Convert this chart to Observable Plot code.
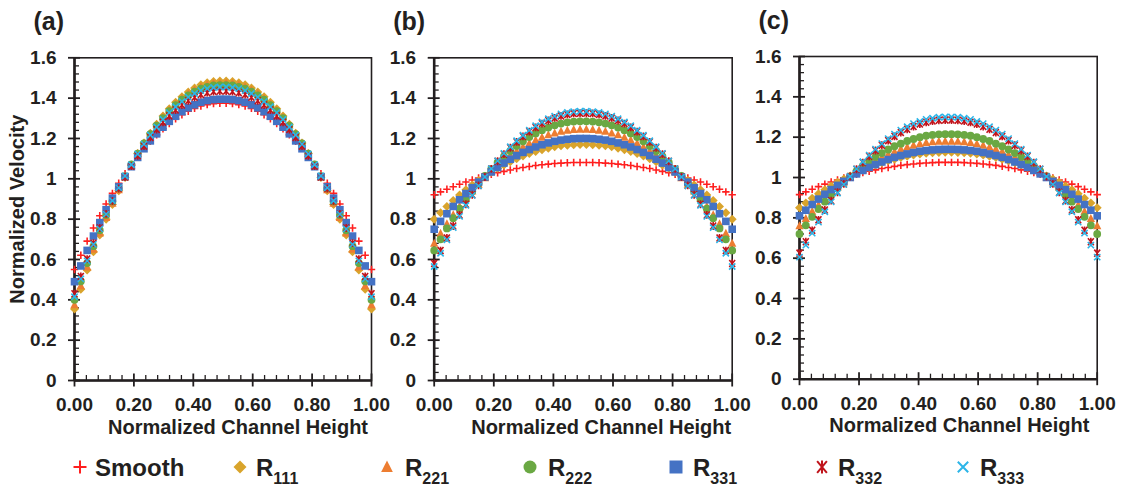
<!DOCTYPE html>
<html><head><meta charset="utf-8">
<script src="https://cdn.jsdelivr.net/npm/d3@7"></script>
<script src="https://cdn.jsdelivr.net/npm/@observablehq/plot@0.6"></script>
<style>
body{margin:0;background:#fff;}
#root{position:relative;width:1129px;height:493px;overflow:hidden;background:#fff;font-family:"Liberation Sans",Arial,sans-serif;color:#231f20;}
.panel{position:absolute;top:0;height:440px;}
.leg{position:absolute;top:456px;font-weight:bold;font-size:24px;line-height:24px;white-space:nowrap;}
.leg sub{font-size:16px;vertical-align:baseline;position:relative;top:8px;}
.legsym{position:absolute;top:455px;}
</style></head><body><div id="root"></div><script>
// ---- data ----
const xs = [0,0.0213,0.0426,0.0638,0.0851,0.1064,0.1277,0.1489,0.1702,0.1915,0.2128,0.2340,0.2553,0.2766,0.2979,0.3191,0.3404,0.3617,0.3830,0.4043,0.4255,0.4468,0.4681,0.4894,0.5106,0.5319,0.5532,0.5745,0.5957,0.6170,0.6383,0.6596,0.6809,0.7021,0.7234,0.7447,0.7660,0.7872,0.8085,0.8298,0.8511,0.8723,0.8936,0.9149,0.9362,0.9574,0.9787,1];
const seriesNames = ["Smooth","R111","R221","R222","R331","R332","R333"];
const xTicks = [0,0.2,0.4,0.6,0.8,1];
const yTicks = [0,0.2,0.4,0.6,0.8,1,1.2,1.4,1.6];

// panel (a)
const smoothA = [0.550,0.621,0.691,0.756,0.817,0.875,0.928,0.978,1.025,1.070,1.112,1.151,1.186,1.218,1.248,1.274,1.297,1.318,1.335,1.349,1.361,1.368,1.373,1.375,1.375,1.373,1.368,1.361,1.349,1.335,1.318,1.297,1.274,1.248,1.218,1.186,1.151,1.112,1.070,1.025,0.978,0.928,0.875,0.817,0.756,0.691,0.621,0.550];
const r111A = [0.355,0.452,0.548,0.638,0.721,0.800,0.873,0.941,1.006,1.067,1.125,1.178,1.226,1.270,1.311,1.347,1.379,1.407,1.431,1.450,1.466,1.476,1.483,1.485,1.485,1.483,1.476,1.466,1.450,1.431,1.407,1.379,1.347,1.311,1.270,1.226,1.178,1.125,1.067,1.006,0.941,0.873,0.800,0.721,0.638,0.548,0.452,0.355];
const r221A = [0.375,0.470,0.563,0.650,0.731,0.808,0.879,0.946,1.009,1.068,1.124,1.176,1.223,1.266,1.306,1.341,1.372,1.399,1.422,1.441,1.456,1.466,1.473,1.475,1.475,1.473,1.466,1.456,1.441,1.422,1.399,1.372,1.341,1.306,1.266,1.223,1.176,1.124,1.068,1.009,0.946,0.879,0.808,0.731,0.650,0.563,0.470,0.375];
const r222A = [0.400,0.492,0.582,0.666,0.745,0.820,0.888,0.953,1.013,1.071,1.125,1.175,1.221,1.263,1.301,1.335,1.365,1.392,1.414,1.432,1.447,1.456,1.463,1.465,1.465,1.463,1.456,1.447,1.432,1.414,1.392,1.365,1.335,1.301,1.263,1.221,1.175,1.125,1.071,1.013,0.953,0.888,0.820,0.745,0.666,0.582,0.492,0.400];
const r331A = [0.490,0.568,0.645,0.716,0.783,0.847,0.904,0.960,1.011,1.060,1.106,1.149,1.188,1.223,1.256,1.285,1.310,1.333,1.352,1.367,1.380,1.388,1.393,1.395,1.395,1.393,1.388,1.380,1.367,1.352,1.333,1.310,1.285,1.256,1.223,1.188,1.149,1.106,1.060,1.011,0.960,0.904,0.847,0.783,0.716,0.645,0.568,0.490];
const r332A = [0.430,0.516,0.602,0.681,0.756,0.826,0.890,0.952,1.009,1.063,1.114,1.162,1.205,1.244,1.280,1.312,1.341,1.366,1.387,1.404,1.418,1.427,1.433,1.435,1.435,1.433,1.427,1.418,1.404,1.387,1.366,1.341,1.312,1.280,1.244,1.205,1.162,1.114,1.063,1.009,0.952,0.890,0.826,0.756,0.681,0.602,0.516,0.430];
const r333A = [0.415,0.504,0.593,0.675,0.752,0.825,0.891,0.955,1.014,1.070,1.123,1.172,1.217,1.257,1.295,1.328,1.357,1.383,1.405,1.423,1.437,1.447,1.453,1.455,1.455,1.453,1.447,1.437,1.423,1.405,1.383,1.357,1.328,1.295,1.257,1.217,1.172,1.123,1.070,1.014,0.955,0.891,0.825,0.752,0.675,0.593,0.504,0.415];

// panel (b)
const smoothB = [0.921,0.935,0.948,0.961,0.973,0.984,0.994,1.004,1.013,1.022,1.030,1.037,1.044,1.051,1.056,1.061,1.066,1.070,1.073,1.076,1.078,1.080,1.081,1.081,1.081,1.081,1.080,1.078,1.076,1.073,1.070,1.066,1.061,1.056,1.051,1.044,1.037,1.030,1.022,1.013,1.004,0.994,0.984,0.973,0.961,0.948,0.935,0.921];
const r111B = [0.800,0.832,0.863,0.893,0.920,0.946,0.969,0.992,1.013,1.033,1.052,1.069,1.085,1.100,1.113,1.125,1.135,1.144,1.152,1.159,1.164,1.167,1.169,1.170,1.170,1.169,1.167,1.164,1.159,1.152,1.144,1.135,1.125,1.113,1.100,1.085,1.069,1.052,1.033,1.013,0.992,0.969,0.946,0.920,0.893,0.863,0.832,0.800];
const r221B = [0.680,0.729,0.777,0.821,0.863,0.903,0.939,0.973,1.005,1.036,1.065,1.091,1.116,1.138,1.158,1.176,1.192,1.206,1.218,1.227,1.235,1.240,1.244,1.245,1.245,1.244,1.240,1.235,1.227,1.218,1.206,1.192,1.176,1.158,1.138,1.116,1.091,1.065,1.036,1.005,0.973,0.939,0.903,0.863,0.821,0.777,0.729,0.680];
const r222B = [0.645,0.700,0.754,0.805,0.852,0.897,0.938,0.977,1.014,1.048,1.081,1.111,1.138,1.163,1.186,1.207,1.225,1.241,1.254,1.265,1.274,1.280,1.284,1.285,1.285,1.284,1.280,1.274,1.265,1.254,1.241,1.225,1.207,1.186,1.163,1.138,1.111,1.081,1.048,1.014,0.977,0.938,0.897,0.852,0.805,0.754,0.700,0.645];
const r331B = [0.750,0.789,0.827,0.863,0.896,0.927,0.956,0.984,1.009,1.034,1.056,1.078,1.097,1.115,1.131,1.145,1.158,1.169,1.178,1.186,1.192,1.196,1.199,1.200,1.200,1.199,1.196,1.192,1.186,1.178,1.169,1.158,1.145,1.131,1.115,1.097,1.078,1.056,1.034,1.009,0.984,0.956,0.927,0.896,0.863,0.827,0.789,0.750];
const r332B = [0.580,0.644,0.707,0.766,0.821,0.874,0.921,0.967,1.009,1.049,1.087,1.122,1.154,1.183,1.210,1.234,1.255,1.274,1.289,1.302,1.312,1.319,1.324,1.325,1.325,1.324,1.319,1.312,1.302,1.289,1.274,1.255,1.234,1.210,1.183,1.154,1.122,1.087,1.049,1.009,0.967,0.921,0.874,0.821,0.766,0.707,0.644,0.580];
const r333B = [0.565,0.631,0.697,0.758,0.814,0.868,0.918,0.965,1.009,1.050,1.089,1.126,1.159,1.189,1.216,1.241,1.263,1.282,1.298,1.311,1.322,1.329,1.333,1.335,1.335,1.333,1.329,1.322,1.311,1.298,1.282,1.263,1.241,1.216,1.189,1.159,1.126,1.089,1.050,1.009,0.965,0.918,0.868,0.814,0.758,0.697,0.631,0.565];

// panel (c)
const smoothC = [0.915,0.929,0.942,0.955,0.967,0.978,0.988,0.998,1.007,1.016,1.024,1.031,1.038,1.045,1.050,1.055,1.060,1.064,1.067,1.070,1.072,1.074,1.075,1.075,1.075,1.075,1.074,1.072,1.070,1.067,1.064,1.060,1.055,1.050,1.045,1.038,1.031,1.024,1.016,1.007,0.998,0.988,0.978,0.967,0.955,0.942,0.929,0.915];
const r111C = [0.850,0.874,0.897,0.919,0.939,0.958,0.976,0.993,1.008,1.023,1.037,1.050,1.062,1.073,1.083,1.091,1.099,1.106,1.112,1.116,1.120,1.123,1.124,1.125,1.125,1.124,1.123,1.120,1.116,1.112,1.106,1.099,1.091,1.083,1.073,1.062,1.050,1.037,1.023,1.008,0.993,0.976,0.958,0.939,0.919,0.897,0.874,0.850];
const r221C = [0.760,0.796,0.832,0.865,0.896,0.925,0.952,0.978,1.002,1.025,1.046,1.066,1.084,1.100,1.115,1.129,1.141,1.151,1.160,1.167,1.173,1.177,1.179,1.180,1.180,1.179,1.177,1.173,1.167,1.160,1.151,1.141,1.129,1.115,1.100,1.084,1.066,1.046,1.025,1.002,0.978,0.952,0.925,0.896,0.865,0.832,0.796,0.760];
const r222C = [0.720,0.763,0.805,0.844,0.880,0.915,0.947,0.977,1.005,1.032,1.057,1.080,1.102,1.121,1.139,1.155,1.168,1.181,1.191,1.200,1.207,1.211,1.214,1.215,1.215,1.214,1.211,1.207,1.200,1.191,1.181,1.168,1.155,1.139,1.121,1.102,1.080,1.057,1.032,1.005,0.977,0.947,0.915,0.880,0.844,0.805,0.763,0.720];
const r331C = [0.810,0.838,0.866,0.893,0.917,0.940,0.961,0.981,1.000,1.018,1.035,1.050,1.064,1.077,1.089,1.100,1.109,1.117,1.124,1.130,1.134,1.137,1.139,1.140,1.140,1.139,1.137,1.134,1.130,1.124,1.117,1.109,1.100,1.089,1.077,1.064,1.050,1.035,1.018,1.000,0.981,0.961,0.940,0.917,0.893,0.866,0.838,0.810];
const r332C = [0.625,0.682,0.738,0.790,0.839,0.885,0.927,0.968,1.005,1.041,1.074,1.105,1.134,1.160,1.183,1.204,1.223,1.239,1.253,1.265,1.274,1.280,1.284,1.285,1.285,1.284,1.280,1.274,1.265,1.253,1.239,1.223,1.204,1.183,1.160,1.134,1.105,1.074,1.041,1.005,0.968,0.927,0.885,0.839,0.790,0.738,0.682,0.625];
const r333C = [0.605,0.665,0.724,0.779,0.830,0.879,0.923,0.966,1.005,1.043,1.078,1.111,1.141,1.168,1.193,1.215,1.235,1.252,1.267,1.278,1.288,1.294,1.299,1.300,1.300,1.299,1.294,1.288,1.278,1.267,1.252,1.235,1.215,1.193,1.168,1.141,1.111,1.078,1.043,1.005,0.966,0.923,0.879,0.830,0.779,0.724,0.665,0.605];

// ---- styles ----
const INK = "#231f20";
function sym(fn){ return {draw(ctx, size){ fn(ctx, Math.sqrt(size / Math.PI)); }}; }
const plusSym = sym((c,r)=>{c.moveTo(-r,0);c.lineTo(r,0);c.moveTo(0,-r);c.lineTo(0,r);});
const diamondSym = sym((c,r)=>{c.moveTo(0,-r);c.lineTo(r,0);c.lineTo(0,r);c.lineTo(-r,0);c.closePath();});
const triSym = sym((c,r)=>{c.moveTo(0,-r);c.lineTo(r*0.9,r*0.75);c.lineTo(-r*0.9,r*0.75);c.closePath();});
const circleSym = sym((c,r)=>{c.moveTo(r,0);c.arc(0,0,r,0,2*Math.PI);c.closePath();});
const squareSym = sym((c,r)=>{c.rect(-r,-r,2*r,2*r);});
const starSym = sym((c,r)=>{c.moveTo(-0.75*r,-0.9*r);c.lineTo(0.75*r,0.9*r);c.moveTo(-0.75*r,0.9*r);c.lineTo(0.75*r,-0.9*r);c.moveTo(0,-r);c.lineTo(0,r);});
const timesSym = sym((c,r)=>{c.moveTo(-0.8*r,-0.8*r);c.lineTo(0.8*r,0.8*r);c.moveTo(-0.8*r,0.8*r);c.lineTo(0.8*r,-0.8*r);});

const styles = [
  {color:"#ff1f1f", symbol:plusSym, r:3.7, filled:false},
  {color:"#d9a42c", symbol:diamondSym, r:4.5, filled:true},
  {color:"#ed7d31", symbol:triSym, r:4.6, filled:true},
  {color:"#6aa843", symbol:circleSym, r:3.9, filled:true},
  {color:"#4472c4", symbol:squareSym, r:3.8, filled:true},
  {color:"#c0141c", symbol:starSym, r:3.9, filled:false},
  {color:"#2cb5e8", symbol:timesSym, r:3.9, filled:false}
];

const yMinor = d3.range(0, 1.6001, 0.04).filter(v => Math.abs(v/0.2 - Math.round(v/0.2)) > 1e-6);
const xMinor = d3.range(0, 1.0001, 0.04).filter(v => Math.abs(v/0.2 - Math.round(v/0.2)) > 1e-6);

const root = document.getElementById("root");

function makePanel(cfg){
  const div = document.createElement("div");
  div.className = "panel";
  div.style.left = cfg.left + "px";
  div.style.width = cfg.width + "px";
  root.appendChild(div);
  const marks = [
    Plot.frame({stroke: INK, strokeWidth: 1.6}),
    Plot.axisY(yTicks, {anchor:"left", tickSize:0, tickPadding:18, tickFormat:".1~f", label:null, fill: INK}),
    Plot.axisY(yTicks, {anchor:"left", tickSize:12, dx:6, fill:"none", stroke: INK, strokeWidth:1.8, label:null}),
    Plot.axisY(yMinor, {anchor:"left", tickSize:5, dx:5, fill:"none", stroke: INK, strokeWidth:1.3, label:null}),
    Plot.axisX(xTicks, {anchor:"bottom", tickSize:0, tickPadding:17, tickFormat:".2f", label:null, fill: INK}),
    Plot.axisX(xTicks, {anchor:"bottom", tickSize:13, dy:-6.5, fill:"none", stroke: INK, strokeWidth:1.8, label:null}),
    Plot.axisX(xMinor, {anchor:"bottom", tickSize:5, dy:-5, fill:"none", stroke: INK, strokeWidth:1.3, label:null}),
    Plot.ruleX([0], {stroke: INK, strokeWidth: 2.6}),
    Plot.ruleY([0], {stroke: INK, strokeWidth: 2.6}),
    Plot.text(["Normalized Channel Height"], {frameAnchor:"bottom", lineAnchor:"top", dy:39, dx:cfg.titleDx, fontSize:20, fontWeight:"bold", fill: INK}),
    Plot.text([cfg.label], {frameAnchor:"top-left", textAnchor:"start", lineAnchor:"middle", dx:-41, dy:-36, fontSize:25, fontWeight:"bold", fill: INK})
  ];
  if (cfg.yTitle) {
    marks.push(Plot.text([cfg.yTitle], {frameAnchor:"left", rotate:-90, textAnchor:"middle", lineAnchor:"middle", dx:-57, dy:-10, fontSize:20, fontWeight:"bold", fill: INK}));
  }
  cfg.values.forEach((vals, k) => {
    const s = styles[k];
    const data = xs.map((x, i) => ({x, y: vals[i], series: seriesNames[k]}));
    marks.push(Plot.dot(data, {
      x:"x", y:"y", symbol: s.symbol, r: s.r,
      fill: s.filled ? s.color : "none",
      stroke: s.filled ? "none" : s.color,
      strokeWidth: s.filled ? 0 : 1.6
    }));
  });
  const chart = Plot.plot({
    width: cfg.width, height: 440,
    marginLeft: cfg.ml, marginRight: cfg.mr, marginTop: cfg.mt, marginBottom: cfg.mb,
    x: {domain:[0,1]}, y: {domain:[0,1.6]},
    style: {fontFamily:"'Liberation Sans', Arial, sans-serif", fontSize:"19px", fontWeight:"bold", background:"transparent", color: INK, overflow:"visible"},
    marks
  });
  div.appendChild(chart);
}

makePanel({left:0, width:385, ml:74, mr:14, mt:57.3, mb:60, titleDx:15, label:"(a)", yTitle:"Normalized Velocity",
  values:[smoothA, r111A, r221A, r222A, r331A, r332A, r333A]});
makePanel({left:385, width:365, ml:48.7, mr:18.3, mt:57.3, mb:60, titleDx:18, label:"(b)",
  values:[smoothB, r111B, r221B, r222B, r331B, r332B, r333B]});
makePanel({left:750, width:379, ml:49, mr:32.3, mt:56, mb:61.3, titleDx:11, label:"(c)",
  values:[smoothC, r111C, r221C, r222C, r331C, r332C, r333C]});

// ---- legend ----
const legendItems = [
  {sym:80, text:95, main:"Smooth", sub:""},
  {sym:240, text:256, main:"R", sub:"111"},
  {sym:387, text:405, main:"R", sub:"221"},
  {sym:530, text:548, main:"R", sub:"222"},
  {sym:676, text:693, main:"R", sub:"331"},
  {sym:822, text:838, main:"R", sub:"332"},
  {sym:963, text:980, main:"R", sub:"333"}
];
legendItems.forEach((it, k) => {
  const s = styles[k];
  const r = 6.5;
  const p = d3.path();
  s.symbol.draw(p, r * r * Math.PI);
  const svg = d3.create("svg").attr("class","legsym").attr("width",20).attr("height",24)
    .attr("viewBox","-10 -12 20 24")
    .style("left", (it.sym - 10) + "px");
  svg.append("path").attr("d", p.toString())
    .attr("fill", s.filled ? s.color : "none")
    .attr("stroke", s.filled ? "none" : s.color)
    .attr("stroke-width", s.filled ? 0 : 2);
  root.appendChild(svg.node());
  const span = document.createElement("div");
  span.className = "leg";
  span.style.left = it.text + "px";
  span.innerHTML = it.main + (it.sub ? "<sub>" + it.sub + "</sub>" : "");
  root.appendChild(span);
});
</script></body></html>
